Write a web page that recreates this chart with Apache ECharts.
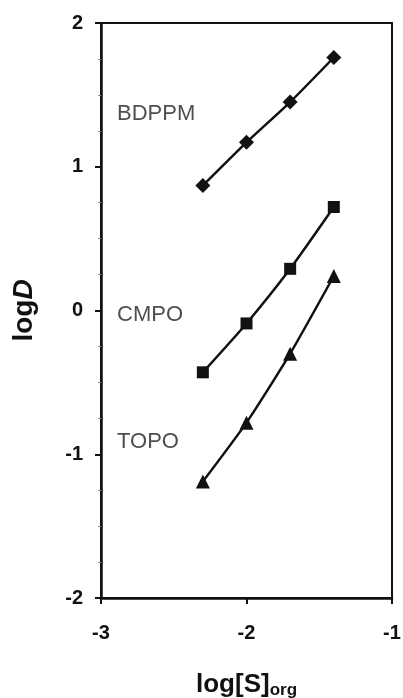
<!DOCTYPE html>
<html>
<head>
    <meta charset="utf-8">
    <title>logD vs log[S]org</title>
    <script src="https://cdn.jsdelivr.net/npm/echarts@6/dist/echarts.min.js"></script>
</head>
<body style="margin:0;background-color:#fff;">
    <div id="main" style="width:403px;height:698px;"></div>

    <script type="text/javascript">
        // x 值 (log[S]org)
        var logS = [-2.3, -2.0, -1.7, -1.4];
        // 三条曲线的 logD
        var bdppm = [0.87, 1.17, 1.45, 1.76];
        var cmpo = [-0.43, -0.09, 0.29, 0.72];
        var topo = [-1.19, -0.78, -0.30, 0.24];
        // 曲线旁的文字标注 [x, y, 名称]
        var tags = [
            [-2.89, 1.37, 'BDPPM'],
            [-2.89, -0.03, 'CMPO'],
            [-2.89, -0.915, 'TOPO']
        ];

        var ink = '#111';
        var face = 'Liberation Sans, Arial, sans-serif';

        function pairs(ys) {
            return logS.map(function (x, i) { return [x, ys[i]]; });
        }

        function curve(name, ys, symbol, size) {
            return {
                name: name,
                type: 'line',
                data: pairs(ys),
                symbol: symbol,
                symbolSize: size,
                smooth: 0.2,
                showSymbol: true,
                lineStyle: { color: ink, width: 2.5 },
                itemStyle: { color: ink },
                z: 3
            };
        }

        var tickFont = {
            color: ink,
            fontFamily: face,
            fontWeight: 'bold',
            fontSize: 20
        };

        var myChart = echarts.init(document.getElementById('main'));

        var option = {
            backgroundColor: '#fff',
            animation: false,
            grid: {
                left: 101, right: 11, top: 23, bottom: 100,
                outerBoundsMode: 'none',
                containLabel: false,
                show: true,
                borderColor: ink,
                borderWidth: 2
            },
            xAxis: {
                type: 'value',
                min: -3, max: -1, interval: 1,
                name: '{a|log[S]}{b|org}',
                nameLocation: 'middle',
                nameGap: 72,
                nameTextStyle: {
                    rich: {
                        a: { fontFamily: face, fontWeight: 'bold', fontSize: 26, color: ink },
                        b: { fontFamily: face, fontWeight: 'bold', fontSize: 17, color: ink, padding: [12, 0, 0, 0] }
                    }
                },
                axisLine: { onZero: false, lineStyle: { color: ink, width: 2.5 } },
                axisTick: { inside: false, length: 6, lineStyle: { color: ink, width: 2 } },
                axisLabel: Object.assign({ margin: 25 }, tickFont),
                splitLine: { show: false }
            },
            yAxis: {
                type: 'value',
                min: -2, max: 2, interval: 1,
                name: '{a|log}{b|D}',
                nameLocation: 'middle',
                nameGap: 63,
                nameRotate: 90,
                nameTextStyle: {
                    rich: {
                        a: { fontFamily: face, fontWeight: 'bold', fontSize: 28, color: ink },
                        b: { fontFamily: face, fontWeight: 'bold', fontStyle: 'italic', fontSize: 28, color: ink }
                    }
                },
                axisLine: { onZero: false, lineStyle: { color: ink, width: 2.5 } },
                axisTick: { inside: false, length: 6, lineStyle: { color: ink, width: 2 } },
                minorTick: { show: true, splitNumber: 4, length: 3, lineStyle: { color: '#888', width: 1 } },
                axisLabel: Object.assign({ margin: 18 }, tickFont),
                splitLine: { show: false }
            },
            series: [
                curve('BDPPM', bdppm, 'diamond', 15),
                curve('CMPO', cmpo, 'rect', 12),
                curve('TOPO', topo, 'triangle', 14),
                {
                    name: 'tags',
                    type: 'scatter',
                    data: tags,
                    symbolSize: 0,
                    silent: true,
                    label: {
                        show: true,
                        position: 'right',
                        distance: 0,
                        formatter: function (p) { return p.data[2]; },
                        color: '#222',
                        fontFamily: face,
                        fontSize: 22
                    }
                }
            ]
        };

        myChart.setOption(option);
    </script>
</body>
</html>
